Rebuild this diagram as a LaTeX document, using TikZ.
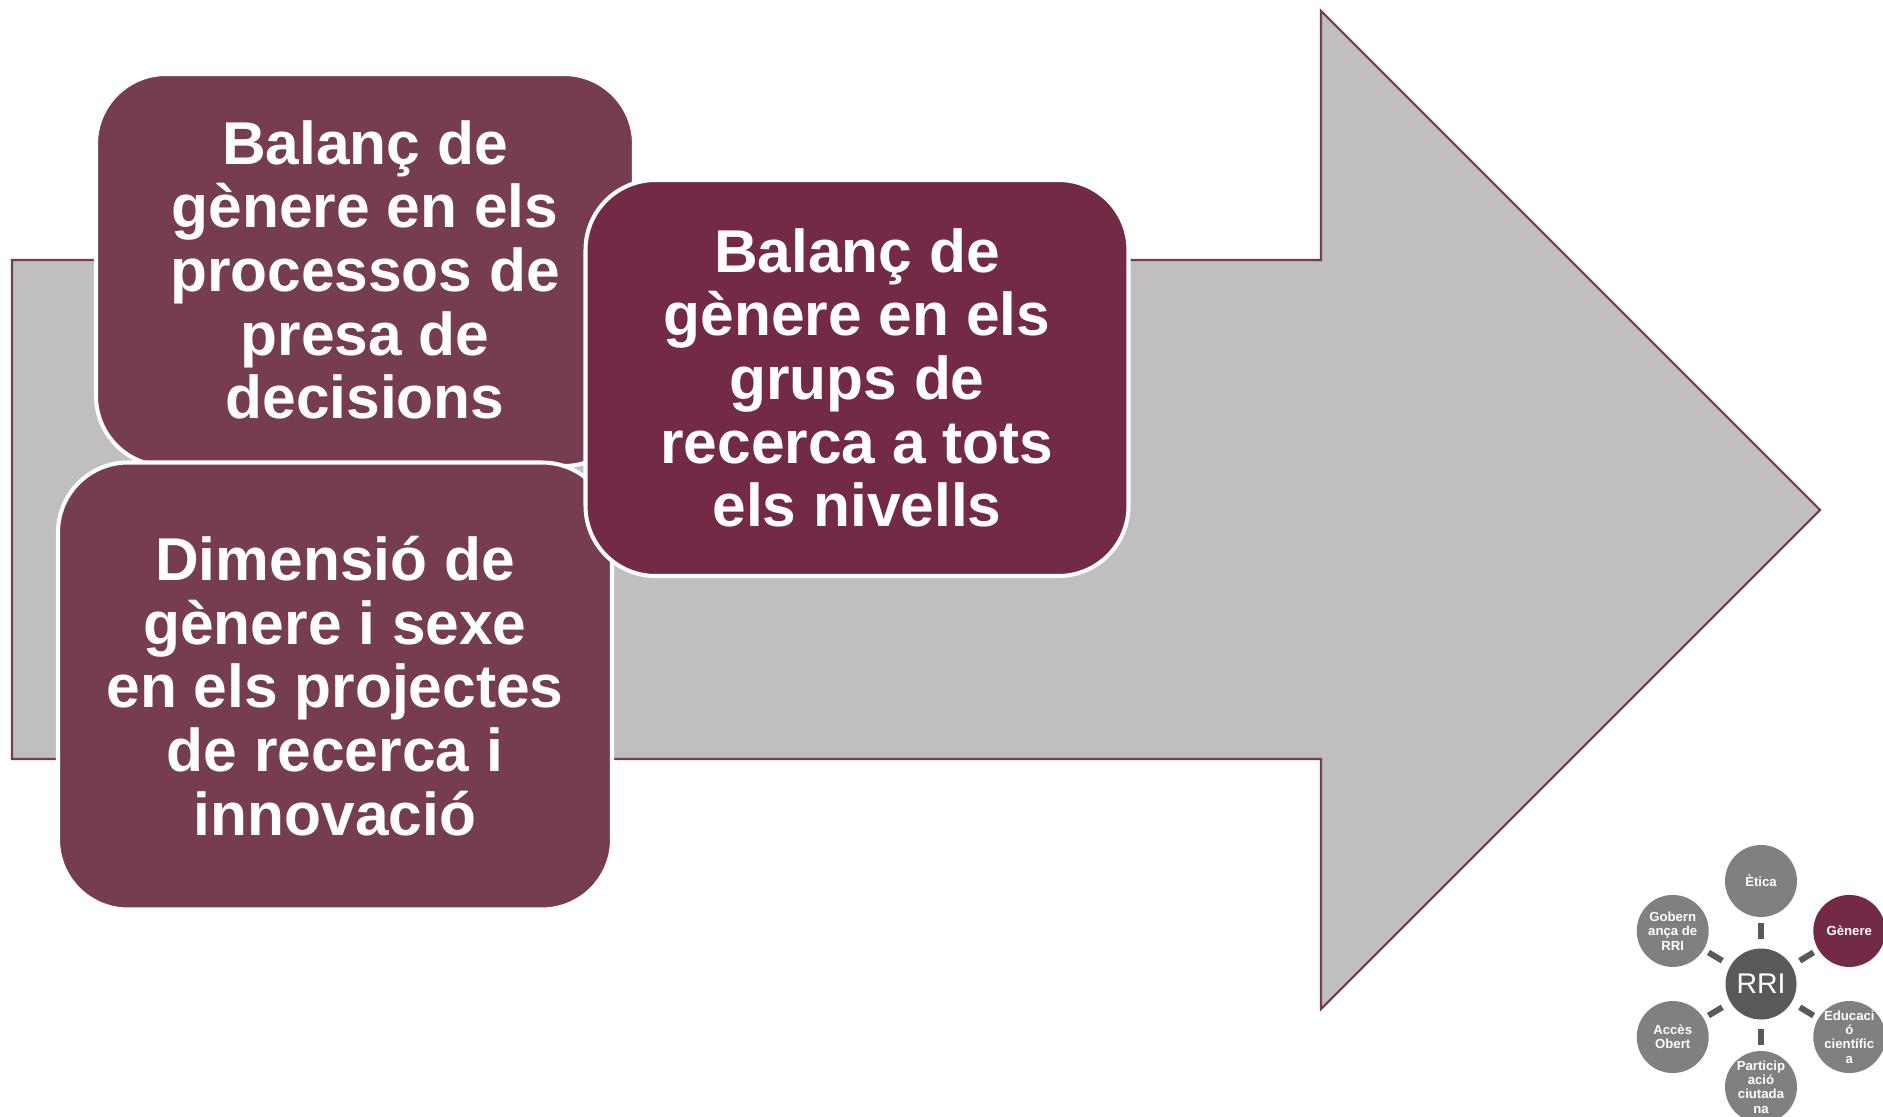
\documentclass[tikz,border=0pt]{standalone}
\usepackage{fontspec}
\setmainfont{Liberation Sans}
\usepackage{tikz}
\definecolor{plum}{RGB}{118,60,80}
\definecolor{wine}{RGB}{114,42,71}
\definecolor{arrowgray}{RGB}{191,191,191}
\definecolor{hubgray}{RGB}{89,89,89}
\definecolor{dotgray}{RGB}{128,128,128}

\begin{document}
\begin{tikzpicture}[x=0.1mm,y=-0.1mm,
  box/.style={draw=white, line width=1.15pt, rounded corners=7mm, text=white, align=center, inner sep=0pt, font=\bfseries\fontsize{17.2}{18.1}\selectfont},
  dot/.style={circle, minimum size=7.2mm, inner sep=-1mm, text=white, align=center, font=\bfseries\fontsize{3.75}{4.07}\selectfont},
  spoke/.style={hubgray, line width=1.7pt, shorten <=0.9mm, shorten >=0.5mm}]
\useasboundingbox (0,0) rectangle (1883,1117);

\draw[fill=arrowgray, draw=plum, line width=0.6pt] (12,260) -- (1321,260) -- (1321,11) -- (1820,510) -- (1321,1009) -- (1321,759) -- (12,759) -- cycle;

\node[box, fill=plum, minimum width=53.8mm, minimum height=39.2mm] (decisions) at (365,270) {Balanç de\\gènere en els\\processos de\\presa de\\decisions};
\node[box, fill=plum, minimum width=55.4mm, minimum height=44.7mm] (projectes) at (335,686) {Dimensió de\\gènere i sexe\\en els projectes\\de recerca i\\innovació};
\node[box, fill=wine, minimum width=54.3mm, minimum height=39.6mm] (grups) at (857,378) {Balanç de\\gènere en els\\grups de\\recerca a tots\\els nivells};

\node[circle, fill=hubgray, minimum size=7.1mm, inner sep=0pt, text=white, font=\fontsize{8.1}{9}\selectfont] (rri) at (1761,984) {RRI};
\foreach \a/\n/\c/\t in {90/etica/dotgray/{Ètica}, 31/genere/wine/{Gènere}, -31/educacio/dotgray/{Educaci\\ó\\científic\\a}, -90/participacio/dotgray/{Particip\\ació\\ciutada\\na}, -149/acces/dotgray/{Accès\\Obert}, 149/governanca/dotgray/{Gobern\\ança de\\RRI}} {
\path (rri) ++(\a:10.3mm) node[dot, fill=\c] (\n) {\t};
\draw[spoke] (rri) -- (\n);
}
\end{tikzpicture}
\end{document}
